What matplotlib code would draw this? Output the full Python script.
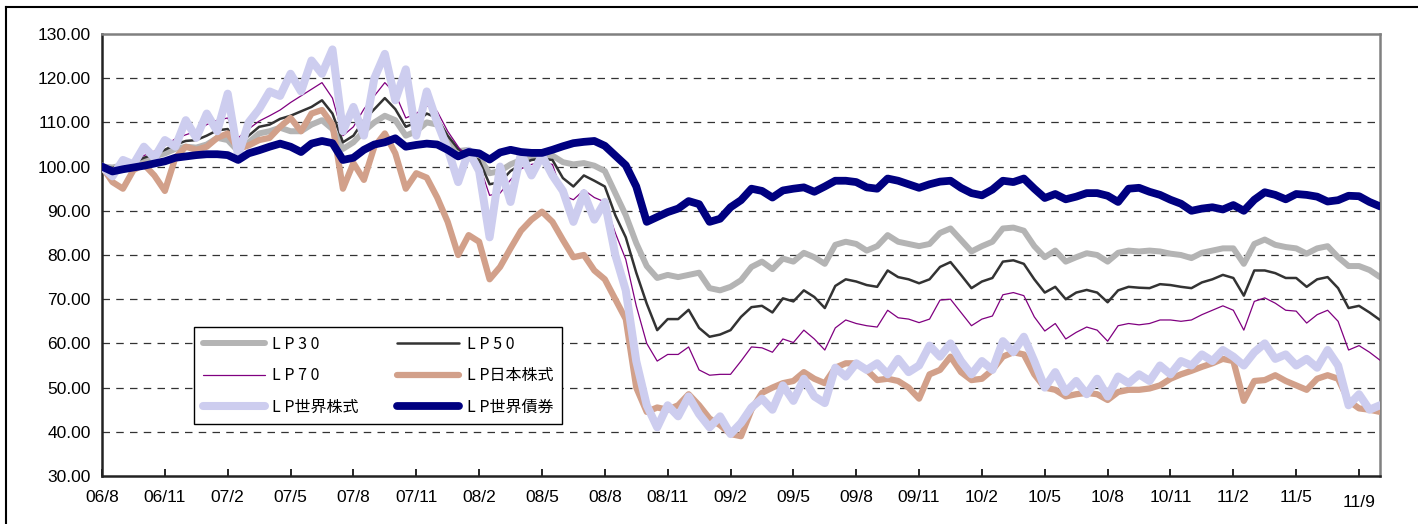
import matplotlib
matplotlib.use("Agg")
import matplotlib.pyplot as plt
import numpy as np
from matplotlib.lines import Line2D
from matplotlib import transforms

# half-month samples starting 2006/8
lp30 = [100.0, 99.8, 100.3, 100.8, 101.5, 102.3, 103.0, 104.0, 104.5, 104.3,
        105.0, 106.5, 106.0, 103.5, 105.5, 107.5, 108.0, 108.8, 108.0, 108.0,
        109.5, 110.5, 108.5, 104.0, 105.5, 108.0, 110.0, 111.5, 110.5, 107.0,
        108.0, 110.0, 109.5, 106.0, 103.5, 103.8, 102.0, 98.5, 99.0, 100.5,
        101.5, 102.0, 102.2, 102.5, 101.0, 100.5, 100.8, 100.2, 99.0, 94.0,
        89.0, 82.7, 77.5, 74.8, 75.5, 75.0, 75.5, 76.0, 72.5, 72.0,
        72.8, 74.3, 77.3, 78.5, 76.8, 79.2, 78.5, 80.5, 79.5, 78.0,
        82.3, 83.0, 82.5, 81.0, 82.0, 84.5, 83.0, 82.5, 82.0, 82.5,
        85.0, 86.0, 83.4, 80.8, 82.0, 83.0, 86.0, 86.2, 85.5, 82.0,
        79.5, 81.0, 78.5, 79.5, 80.4, 80.0, 78.5, 80.5, 81.0, 80.8,
        81.0, 80.8, 80.3, 80.0, 79.3, 80.5, 81.0, 81.5, 81.5, 78.0,
        82.5, 83.5, 82.3, 81.8, 81.5, 80.3, 81.5, 82.0, 79.5, 77.5,
        77.5, 76.6, 75.0]
lp50 = [100.0, 99.7, 100.4, 101.0, 102.0, 102.8, 103.8, 105.0, 105.8, 106.0,
        107.0, 108.2, 108.5, 105.0, 107.0, 109.0, 109.5, 110.8, 111.5, 112.5,
        113.5, 115.0, 112.0, 105.5, 107.0, 110.5, 113.0, 115.5, 113.0, 109.0,
        110.0, 112.0, 111.0, 107.0, 104.0, 102.5, 101.5, 96.0, 96.5, 99.0,
        100.5, 101.5, 101.8, 101.5, 97.4, 95.5, 98.0, 96.8, 95.5, 89.0,
        84.0, 76.0, 69.0, 63.0, 65.5, 65.5, 67.6, 63.5, 61.5, 62.0,
        63.0, 66.0, 68.2, 68.5, 67.0, 70.2, 69.5, 72.0, 70.5, 68.0,
        73.0, 74.5, 74.0, 73.2, 72.8, 76.5, 75.0, 74.5, 73.6, 74.5,
        77.3, 78.4, 75.5, 72.5, 74.0, 74.8, 78.5, 78.8, 78.0, 74.5,
        71.5, 72.8, 70.0, 71.5, 72.1, 71.5, 69.3, 72.0, 72.8, 72.6,
        72.5, 73.4, 73.2, 72.8, 72.5, 73.8, 74.5, 75.5, 74.8, 70.8,
        76.5, 76.5, 75.9, 74.8, 74.8, 72.8, 74.5, 75.0, 72.5, 68.0,
        68.5, 67.0, 65.3]
lp70 = [100.0, 99.6, 100.5, 101.3, 102.5, 103.5, 104.7, 106.3, 107.2, 108.0,
        109.5, 110.5, 111.0, 106.5, 108.5, 110.3, 111.5, 112.8, 114.5, 116.0,
        117.5, 119.0, 115.5, 107.0, 109.0, 113.0, 116.0, 119.0, 116.5, 111.0,
        112.0, 113.8, 112.5, 108.0, 104.5, 101.5, 100.5, 93.5, 94.0, 97.0,
        99.5, 100.5, 101.0, 100.5, 93.5, 92.5, 94.7, 93.0, 92.0, 85.0,
        79.0, 68.5, 60.0, 56.0, 57.5, 57.5, 59.2, 54.0, 52.8, 53.0,
        53.0, 56.0, 59.2, 59.0, 58.0, 61.0, 60.2, 63.0, 61.0, 58.5,
        63.5, 65.3, 64.5, 64.0, 63.7, 67.5, 65.8, 65.5, 64.7, 65.5,
        69.8, 70.0, 67.0, 64.0, 65.5, 66.2, 71.0, 71.5, 70.8, 66.0,
        62.8, 64.5, 61.0, 62.5, 63.7, 63.0, 60.5, 64.0, 64.5, 64.2,
        64.5, 65.3, 65.3, 65.0, 65.3, 66.5, 67.5, 68.5, 67.5, 63.0,
        69.5, 70.3, 69.1, 67.5, 67.3, 64.6, 66.5, 67.5, 65.0, 58.5,
        59.5, 58.0, 56.2]
lp_jp_eq = [100.0, 96.5, 95.0, 99.2, 100.5, 98.0, 94.5, 102.0, 104.5, 103.8,
            104.5, 106.5, 107.5, 104.0, 104.8, 106.0, 106.5, 109.0, 111.0, 108.0,
            112.0, 112.8, 109.5, 95.0, 100.8, 97.0, 104.5, 107.5, 103.0, 95.0,
            98.5, 97.5, 93.0, 87.5, 80.0, 84.5, 83.0, 74.5, 77.3, 81.5,
            85.5, 88.0, 89.8, 87.5, 83.4, 79.5, 80.0, 76.5, 74.5, 70.0,
            65.5, 50.0, 44.5, 45.5, 45.0, 46.0, 48.5, 46.0, 43.0, 41.5,
            39.5, 39.0, 45.0, 48.8, 50.0, 51.0, 51.5, 53.5, 52.0, 51.0,
            54.5, 55.5, 55.5, 54.0, 51.7, 52.0, 51.5, 50.0, 47.5, 53.0,
            54.0, 57.0, 53.5, 51.7, 52.0, 54.0, 57.0, 58.0, 57.5, 53.0,
            50.0, 49.5, 48.0, 48.5, 48.8, 48.5, 47.2, 49.0, 49.5, 49.5,
            49.8, 50.5, 52.0, 53.0, 53.8, 54.7, 55.5, 56.5, 56.0, 47.0,
            51.5, 51.7, 52.8, 51.5, 50.5, 49.5, 52.0, 52.8, 52.0, 47.0,
            45.3, 45.0, 44.5]
lp_world_eq = [100.0, 97.8, 101.5, 100.5, 104.5, 102.0, 106.0, 104.5, 110.5, 106.5,
               112.0, 108.0, 116.5, 102.5, 110.0, 113.0, 117.0, 116.0, 121.0, 117.0,
               124.0, 121.0, 126.5, 108.0, 113.5, 107.0, 120.0, 125.5, 115.0, 122.0,
               107.0, 117.0, 110.0, 104.0, 96.5, 103.5, 99.0, 84.0, 100.0, 92.0,
               103.0, 98.0, 102.5, 98.0, 94.5, 87.5, 94.0, 88.0, 92.0, 80.0,
               72.0, 56.0, 46.0, 41.0, 46.0, 43.5, 48.0, 44.0, 41.0, 43.5,
               39.5, 42.0, 45.5, 47.5, 45.0, 50.5, 47.0, 52.0, 48.0, 46.5,
               54.5, 52.5, 55.5, 54.0, 55.5, 53.0, 56.5, 53.5, 55.0, 59.5,
               57.0, 60.0, 56.0, 53.0, 56.0, 54.0, 60.5, 58.0, 61.5, 56.0,
               50.0, 53.5, 49.0, 51.5, 48.5, 52.0, 48.0, 52.5, 51.0, 53.0,
               51.5, 55.0, 53.0, 56.0, 55.0, 57.5, 56.0, 58.5, 57.0, 55.0,
               58.0, 60.0, 56.5, 57.5, 55.0, 56.5, 54.5, 58.5, 55.0, 46.0,
               48.5, 45.0, 46.0]
lp_world_bd = [100.0, 98.9, 99.4, 99.8, 100.2, 100.7, 101.2, 102.0, 102.3, 102.6,
               102.8, 102.8, 102.6, 101.5, 103.0, 103.7, 104.5, 105.2, 104.5, 103.3,
               105.2, 105.8, 105.3, 101.5, 102.0, 103.8, 105.0, 105.5, 106.4, 104.5,
               104.9, 105.2, 105.0, 103.8, 102.3, 103.3, 103.0, 101.6, 103.2, 103.8,
               103.3, 103.1, 103.1, 103.8, 104.6, 105.3, 105.6, 105.8, 104.7, 102.5,
               100.3, 95.5, 87.5, 88.6, 89.7, 90.5, 92.2, 91.5, 87.5, 88.2,
               90.8, 92.4, 95.0, 94.5, 93.0, 94.6, 95.0, 95.3, 94.3, 95.5,
               96.8, 96.8, 96.5, 95.3, 95.0, 97.3, 96.8, 96.0, 95.2, 96.0,
               96.6, 96.8, 95.2, 94.0, 93.5, 94.8, 96.8, 96.5, 97.3, 95.0,
               92.9, 93.8, 92.6, 93.2, 94.0, 94.0, 93.4, 92.0, 95.0, 95.2,
               94.3, 93.6, 92.5, 91.6, 90.0, 90.5, 90.8, 90.3, 91.3, 90.0,
               92.5, 94.2, 93.6, 92.6, 93.8, 93.6, 93.2, 92.1, 92.4, 93.4,
               93.3, 92.0, 91.0]

tick_labels = ["06/8", "06/11", "07/2", "07/5", "07/8", "07/11", "08/2", "08/5",
               "08/8", "08/11", "09/2", "09/5", "09/8", "09/11", "10/2", "10/5",
               "10/8", "10/11", "11/2", "11/5", "11/9"]
series_names = ["L P 3 0", "L P 5 0", "L P 7 0", "L P日本株式", "L P世界株式", "L P世界債券"]

# x in quarter units (6 half-month samples per tick)
x = np.arange(len(lp30)) / 6.0

fig = plt.figure(figsize=(14.18, 5.24), dpi=100)
ax = fig.add_axes([102 / 1418, 1 - 476 / 524, 1278 / 1418, 442 / 524])

# (values, colour, width, zorder)
styles = [
    (lp30, "#b4b4b4", 4.3, 2),
    (lp50, "#333333", 1.8, 3),
    (lp70, "#800080", 0.9, 4),
    (lp_jp_eq, "#d2a08a", 4.5, 5),
    (lp_world_eq, "#cdcdef", 5.8, 6),
    (lp_world_bd, "#000080", 5.6, 7),
]
handles = []
for (vals, color, lw, z), name in zip(styles, series_names):
    h, = ax.plot(x, vals, color=color, lw=lw, zorder=z, label=name,
                 solid_joinstyle="round", solid_capstyle="round")
    handles.append(h)

ax.set_xlim(0, x[-1])
ax.set_ylim(30, 130)
ax.set_yticks(np.arange(30, 131, 10))
ax.set_yticklabels([f"{v:.2f}" for v in np.arange(30, 131, 10)])
ax.set_xticks(np.arange(len(tick_labels)))
ax.set_xticklabels(tick_labels)

for v in range(40, 130, 10):
    ax.axhline(v, color="#333333", lw=0.9, ls=(0, (6, 5)), zorder=1)

for lbl in ax.get_xticklabels() + ax.get_yticklabels():
    lbl.set_fontfamily(["Liberation Sans", "DejaVu Sans"])
    lbl.set_fontsize(12.5)
ax.tick_params(axis="x", direction="in", length=5, width=1.2, pad=10, colors="black")
ax.tick_params(axis="y", direction="in", length=0, pad=8)
# last date label sits a little lower in the original
last = ax.get_xticklabels()[-1]
last.set_transform(last.get_transform() +
                   transforms.ScaledTranslation(0, -4 / 72, fig.dpi_scale_trans))

for side in ("left", "bottom"):
    ax.spines[side].set_color("#222222")
    ax.spines[side].set_linewidth(1.8)
for side in ("top", "right"):
    ax.spines[side].set_color("#808080")
    ax.spines[side].set_linewidth(1.8)

order = [0, 2, 4, 1, 3, 5]
leg = ax.legend([handles[i] for i in order], [series_names[i] for i in order],
                ncol=2, loc="upper left", bbox_to_anchor=(0.072, 0.337),
                prop=dict(family=["Noto Sans CJK JP", "DejaVu Sans"], size=11.5),
                frameon=True, fancybox=False, framealpha=1, edgecolor="black",
                borderpad=0.55, handlelength=3.9, handletextpad=0.45,
                columnspacing=2.4, labelspacing=0.9, borderaxespad=0)
leg.get_frame().set_linewidth(1.0)
leg.set_zorder(10)

# outer chart border (left and top visible)
fig.add_artist(Line2D([6 / 1418, 6 / 1418], [0, 1 - 7 / 524], color="black", lw=1.5))
fig.add_artist(Line2D([6 / 1418, 1], [1 - 7 / 524, 1 - 7 / 524], color="black", lw=1.5))

fig.savefig("out.png", dpi=100)
